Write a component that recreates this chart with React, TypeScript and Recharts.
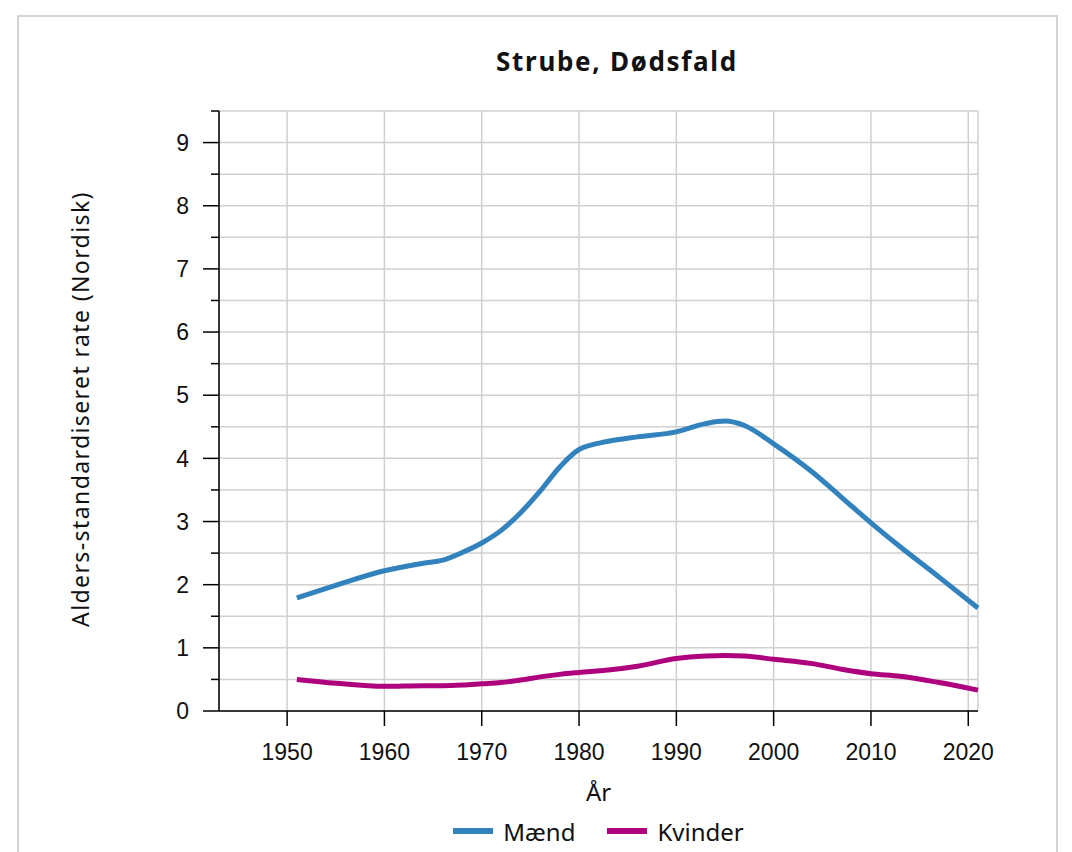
import React from "react";
import { LineChart, Line, XAxis, YAxis, CartesianGrid, Legend } from "recharts";

const years = [1951, 1955, 1960, 1964, 1966, 1968, 1970, 1972, 1974, 1976, 1978, 1980, 1983, 1986, 1990, 1993, 1995, 1997, 2000, 2004, 2007, 2010, 2013, 2017, 2021];
const maend = [1.79, 1.99, 2.22, 2.34, 2.39, 2.51, 2.66, 2.86, 3.14, 3.48, 3.86, 4.14, 4.27, 4.34, 4.42, 4.55, 4.59, 4.52, 4.23, 3.78, 3.38, 2.98, 2.6, 2.12, 1.63];
const kvinder = [0.5, 0.44, 0.39, 0.4, 0.4, 0.41, 0.43, 0.45, 0.49, 0.54, 0.58, 0.61, 0.65, 0.71, 0.83, 0.87, 0.88, 0.87, 0.82, 0.75, 0.66, 0.59, 0.55, 0.45, 0.33];

const xTicks = [1950, 1960, 1970, 1980, 1990, 2000, 2010, 2020];
const yTicks = [0, 0.5, 1, 1.5, 2, 2.5, 3, 3.5, 4, 4.5, 5, 5.5, 6, 6.5, 7, 7.5, 8, 8.5, 9, 9.5];

const BLUE = "#3182bd";
const MAGENTA = "#ae017e";
const SANS = "'Noto Sans', 'Open Sans', sans-serif";
const ARIAL = "'Liberation Sans', Arial, sans-serif";

const data = years.map((year, i) => ({ year, maend: maend[i], kvinder: kvinder[i] }));

const legendItems = [
  { name: "Mænd", color: BLUE },
  { name: "Kvinder", color: MAGENTA },
];

// tick x is the label anchor: axis line sits at x + tickMargin + tickSize
const YTick = (props: any) => {
  const { x, y, payload } = props;
  const major = Number.isInteger(payload.value);
  const axisX = x + 14 + 16;
  return (
    <g>
      <line x1={major ? axisX - 16 : axisX - 8} x2={axisX} y1={y} y2={y} stroke="#000" strokeWidth={1.5} />
      {major && (
        <text x={x} y={y} dy="0.36em" textAnchor="end" fontSize={23} fontFamily={ARIAL} fill="#111">
          {payload.value}
        </text>
      )}
    </g>
  );
};

const YLabel = (props: any) => {
  const { viewBox } = props;
  const cx = viewBox.x + 61;
  const cy = viewBox.y + viewBox.height / 2 - 2;
  return (
    <text
      x={cx}
      y={cy}
      transform={`rotate(-90, ${cx}, ${cy})`}
      textAnchor="middle"
      dominantBaseline="central"
      fontSize={23}
      letterSpacing={1.4}
      fontFamily={SANS}
      fill="#111"
    >
      Alders-standardiseret rate (Nordisk)
    </text>
  );
};

const LegendContent = () => (
  <div style={{ display: "flex", justifyContent: "center", alignItems: "center", height: 30, fontFamily: SANS, fontSize: 24, color: "#111" }}>
    {legendItems.map((item, i) => (
      <div key={item.name} style={{ display: "flex", alignItems: "center", marginLeft: i ? 32 : 0 }}>
        <div style={{ width: 40, height: 6, background: item.color, marginRight: 10 }} />
        <span>{item.name}</span>
      </div>
    ))}
  </div>
);

export default function App() {
  return (
    <div style={{ paddingTop: 7, paddingLeft: 9 }}>
      <style>{"body{overflow:hidden}"}</style>
      <div style={{ position: "relative", width: 1037, height: 835, border: "2px solid #d4d4d4", background: "#fff" }}>
        <div
          style={{
            position: "absolute",
            left: 398,
            width: 400,
            top: 29,
            textAlign: "center",
            fontFamily: SANS,
            fontWeight: 700,
            fontSize: 26,
            letterSpacing: 1.7,
            lineHeight: "30px",
            color: "#111",
          }}
        >
          Strube, Dødsfald
        </div>
        <LineChart width={1037} height={835} data={data} margin={{ top: 94, right: 78, left: 0, bottom: 6 }}>
          <CartesianGrid stroke="#d0d0d0" strokeWidth={1.5} />
          <XAxis
            dataKey="year"
            type="number"
            domain={[1943, 2021]}
            ticks={xTicks}
            interval={0}
            height={105}
            tickSize={15}
            tickMargin={18}
            stroke="#000"
            strokeWidth={1.5}
            tick={{ fontSize: 23, fontFamily: ARIAL, fill: "#111" }}
            label={{ value: "År", position: "insideBottom", offset: 15, fontSize: 24, fontFamily: SANS, fill: "#111" }}
          />
          <YAxis
            type="number"
            domain={[0, 9.5]}
            ticks={yTicks}
            interval={0}
            width={200}
            tickSize={16}
            tickMargin={14}
            tickLine={false}
            stroke="#000"
            strokeWidth={1.5}
            tick={<YTick />}
            label={<YLabel />}
          />
          <Legend verticalAlign="bottom" content={<LegendContent />} wrapperStyle={{ left: 200, width: 759, height: 30 }} />
          <Line type="monotone" dataKey="maend" name="Mænd" stroke={BLUE} strokeWidth={5} dot={false} isAnimationActive={false} />
          <Line type="monotone" dataKey="kvinder" name="Kvinder" stroke={MAGENTA} strokeWidth={5} dot={false} isAnimationActive={false} />
        </LineChart>
      </div>
    </div>
  );
}
